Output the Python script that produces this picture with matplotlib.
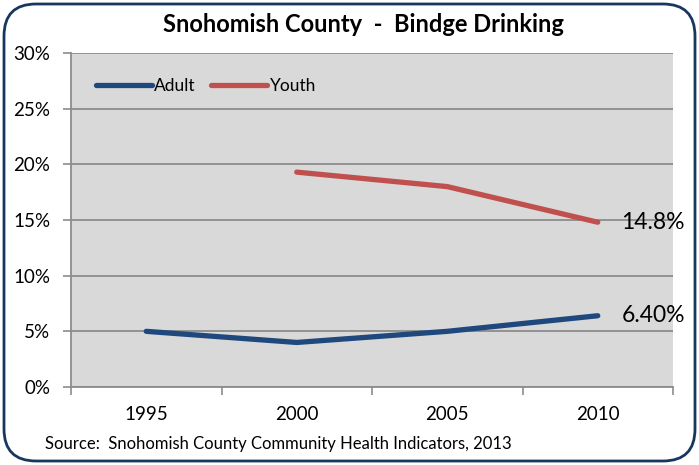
import numpy as np
import matplotlib.pyplot as plt
from matplotlib.patches import FancyBboxPatch

# Data
years = ['1995', '2000', '2005', '2010']
adult = [5.0, 4.0, 5.0, 6.4]
youth = [np.nan, 19.3, 18.0, 14.8]
yticks = [0, 5, 10, 15, 20, 25, 30]

blue = '#1f497d'
red = '#c0504d'
grid_col = '#8c8c8c'

plt.rcParams['font.family'] = ['Lato', 'DejaVu Sans']

fig = plt.figure(figsize=(6.99, 4.65), dpi=100)
fig.patch.set_facecolor('white')

# rounded border around the whole chart (inches)
border = FancyBboxPatch((0.04, 0.04), 6.91, 4.57,
                        boxstyle='round,pad=0,rounding_size=0.32',
                        transform=fig.dpi_scale_trans, facecolor='none',
                        edgecolor='#17375e', linewidth=2)
fig.patches.append(border)

ax = fig.add_axes([71 / 699, (465 - 387) / 465, 602 / 699, 334 / 465])
ax.set_facecolor('#d9d9d9')

x = np.arange(len(years))
ax.plot(x, adult, color=blue, lw=3.8, solid_capstyle='round', label='Adult')
ax.plot(x, youth, color=red, lw=3.8, solid_capstyle='round', label='Youth')

ax.set_xlim(-0.5, len(years) - 0.5)
ax.set_ylim(0, 30)
ax.set_yticks(yticks)
ax.set_yticklabels([f'{v}%' for v in yticks], fontsize=13.5)
ax.set_xticks(x)
ax.set_xticklabels(years, fontsize=13.5)
ax.set_xticks(np.arange(-0.5, len(years)), minor=True)
ax.tick_params(axis='x', which='major', length=0, pad=14)
ax.tick_params(axis='x', which='minor', length=6, color=grid_col, width=1.2)
ax.tick_params(axis='y', length=6, color=grid_col, width=1.2, pad=9)

ax.grid(axis='y', color=grid_col, lw=1.3)
ax.set_axisbelow(True)
for side in ['top', 'right']:
    ax.spines[side].set_visible(False)
for side in ['left', 'bottom']:
    ax.spines[side].set_color(grid_col)
    ax.spines[side].set_linewidth(1.3)

# end-of-line value labels
ax.annotate('14.8%', (x[-1], youth[-1]), xytext=(17, 0), textcoords='offset points',
            va='center', ha='left', fontsize=16.5, annotation_clip=False)
ax.annotate('6.40%', (x[-1], adult[-1]), xytext=(17, 0), textcoords='offset points',
            va='center', ha='left', fontsize=16.5, annotation_clip=False)

ax.legend(loc='upper left', bbox_to_anchor=(0.03, 0.945), ncol=2, frameon=False,
          fontsize=12.5, handlelength=3.2, handletextpad=0.15, columnspacing=0.9,
          borderaxespad=0)

fig.text(363 / 699, 1 - 25 / 465, 'Snohomish County  -  Bindge Drinking',
         ha='center', va='center', fontsize=17, fontweight='bold')
fig.text(45 / 699, 1 - 444 / 465, 'Source:  Snohomish County Community Health Indicators, 2013',
         ha='left', va='center', fontsize=12)

fig.savefig('out.png', dpi=100)
